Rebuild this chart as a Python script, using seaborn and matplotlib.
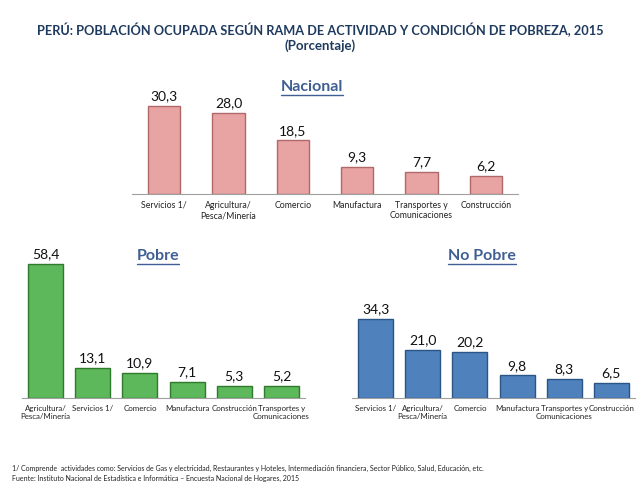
import matplotlib
matplotlib.use("Agg")
import matplotlib.pyplot as plt
import seaborn as sns
from matplotlib.lines import Line2D

# Data
nacional_cats = ["Servicios 1/", "Agricultura/\nPesca/Minería", "Comercio",
                 "Manufactura", "Transportes y\nComunicaciones", "Construcción"]
nacional_vals = [30.3, 28.0, 18.5, 9.3, 7.7, 6.2]

pobre_cats = ["Agricultura/\nPesca/Minería", "Servicios 1/", "Comercio",
              "Manufactura", "Construcción", "Transportes y\nComunicaciones"]
pobre_vals = [58.4, 13.1, 10.9, 7.1, 5.3, 5.2]

nopobre_cats = ["Servicios 1/", "Agricultura/\nPesca/Minería", "Comercio",
                "Manufactura", "Transportes y\nComunicaciones", "Construcción"]
nopobre_vals = [34.3, 21.0, 20.2, 9.8, 8.3, 6.5]

title = "PERÚ: POBLACIÓN OCUPADA SEGÚN RAMA DE ACTIVIDAD Y CONDICIÓN DE POBREZA, 2015"
subtitle = "(Porcentaje)"
footnote = ("1/ Comprende  actividades como: Servicios de Gas y electricidad, Restaurantes y Hoteles, "
            "Intermediación financiera, Sector Público, Salud, Educación, etc.\n"
            "Fuente: Instituto Nacional de Estadística e Informática – Encuesta Nacional de Hogares, 2015")

sns.set_style("white")
plt.rcParams["font.family"] = ["Lato", "DejaVu Sans"]

W, H = 640, 484
fig = plt.figure(figsize=(W / 100, H / 100), dpi=100)


def px_axes(x0, x1, base, height):
    return fig.add_axes([x0 / W, 1 - base / H, (x1 - x0) / W, height / H])


def draw_panel(ax, cats, vals, color, edge, width, px_per_unit, height, fs_val, fs_tick):
    sns.barplot(x=cats, y=vals, color=color, edgecolor=edge, linewidth=1.0,
                width=width, saturation=1, ax=ax)
    ax.set_ylim(0, height / px_per_unit)
    ax.set_xlim(-0.5, len(cats) - 0.5)
    for i, v in enumerate(vals):
        ax.text(i, v + 3.5 / px_per_unit, f"{v:.1f}".replace(".", ","),
                ha="center", va="bottom", fontsize=fs_val, color="#111111")
    for s in ["top", "right", "left"]:
        ax.spines[s].set_visible(False)
    ax.spines["bottom"].set_color("#A0A0A0")
    ax.set_yticks([])
    ax.set_ylabel("")
    ax.set_xlabel("")
    ax.set_xticks(range(len(cats)))
    ax.set_xticklabels(cats, fontsize=fs_tick, color="#222222", linespacing=1.2)
    ax.tick_params(axis="x", length=0, pad=5)
    ax.set_xticks([i - 0.5 for i in range(len(cats) + 1)], minor=True)
    ax.tick_params(axis="x", which="minor", length=3, color="#A0A0A0")
    ax.set_facecolor("none")


ax_n = px_axes(132, 518, 194, 100)
draw_panel(ax_n, nacional_cats, nacional_vals, "#E8A3A3", "#B06868", 0.5, 2.9, 100, 10, 6.3)

ax_p = px_axes(22, 305, 398, 140)
draw_panel(ax_p, pobre_cats, pobre_vals, "#5CB85A", "#2F7A2C", 0.74, 2.3, 140, 10, 5.7)

ax_np = px_axes(352, 635, 398, 140)
draw_panel(ax_np, nopobre_cats, nopobre_vals, "#4F81BD", "#2A5586", 0.74, 2.3, 140, 10, 5.7)

title_color = "#1F3A5F"
fig.text(320 / W, 1 - 30 / H, title, ha="center", va="center", fontsize=9.2,
         fontweight="bold", color=title_color)
fig.text(320 / W, 1 - 46 / H, subtitle, ha="center", va="center", fontsize=9.5,
         fontweight="bold", color=title_color)

section_color = "#3F5F94"
sections = []
for label, x, y in [("Nacional", 312, 87), ("Pobre", 158, 256), ("No Pobre", 482, 256)]:
    t = fig.text(x / W, 1 - y / H, label, ha="center", va="center", fontsize=11.5,
                 fontweight="bold", color=section_color)
    sections.append(t)

fig.text(12 / W, 1 - 473 / H, footnote, ha="left", va="center", fontsize=5.0,
         color="#222222", linespacing=1.5)

# underline section titles
fig.canvas.draw()
renderer = fig.canvas.get_renderer()
for t in sections:
    bb = t.get_window_extent(renderer)
    y = (bb.y0 - 1) / H
    fig.add_artist(Line2D([bb.x0 / W, bb.x1 / W], [y, y], color=section_color, lw=1.0))

fig.savefig("out.png", dpi=100, facecolor="white")
